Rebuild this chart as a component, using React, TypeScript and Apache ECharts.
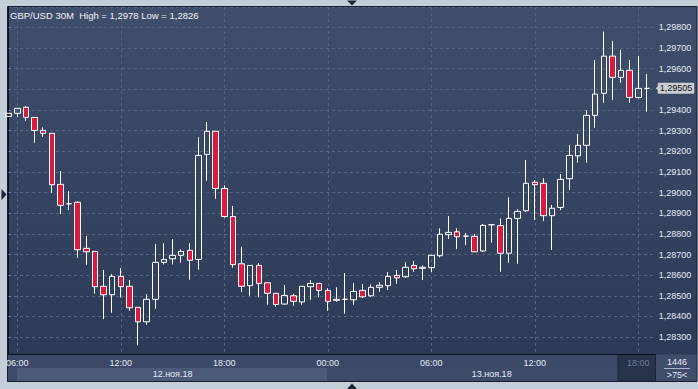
import React, { useEffect, useRef } from 'react';
import * as echarts from 'echarts';

// ---- data (30M candles, index 0 = 12 Nov 05:30) ----
const opens = [
  1.29369, 1.29384, 1.29413, 1.29364, 1.29301, 1.29287, 1.29040, 1.28946, 1.28953, 1.28730,
  1.28715, 1.28546, 1.28505, 1.28594, 1.28546, 1.28444, 1.28374, 1.28483, 1.28662, 1.28679,
  1.28696, 1.28720, 1.28676, 1.29185, 1.29297, 1.29020, 1.28884, 1.28655, 1.28549, 1.28647,
  1.28563, 1.28512, 1.28460, 1.28500, 1.28470, 1.28544, 1.28560, 1.28526, 1.28478, 1.28483,
  1.28481, 1.28526, 1.28500, 1.28541, 1.28549, 1.28599, 1.28592, 1.28647, 1.28633, 1.28636,
  1.28694, 1.28796, 1.28810, 1.28789, 1.28788, 1.28717, 1.28844, 1.28840, 1.28706, 1.28875,
  1.28912, 1.29050, 1.29045, 1.28888, 1.28928, 1.29067, 1.29178, 1.29229, 1.29374, 1.29481,
  1.29661, 1.29558, 1.29592, 1.29461, 1.29505,
];
const closes = [
  1.29384, 1.29408, 1.29364, 1.29301, 1.29287, 1.29038, 1.28938, 1.28946, 1.28723, 1.28713,
  1.28544, 1.28505, 1.28594, 1.28544, 1.28442, 1.28374, 1.28483, 1.28662, 1.28676, 1.28696,
  1.28715, 1.28672, 1.29180, 1.29297, 1.29020, 1.28884, 1.28651, 1.28546, 1.28647, 1.28560,
  1.28512, 1.28458, 1.28502, 1.28473, 1.28546, 1.28560, 1.28526, 1.28473, 1.28483, 1.28483,
  1.28521, 1.28495, 1.28541, 1.28551, 1.28594, 1.28587, 1.28638, 1.28631, 1.28638, 1.28696,
  1.28798, 1.28807, 1.28786, 1.28789, 1.28713, 1.28841, 1.28844, 1.28706, 1.28875, 1.28909,
  1.29045, 1.29038, 1.28888, 1.28924, 1.29064, 1.29180, 1.29229, 1.29374, 1.29477, 1.29661,
  1.29558, 1.29592, 1.29461, 1.29505, 1.29505,
];
const highs = [
  1.29385, 1.29410, 1.29419, 1.29364, 1.29316, 1.29287, 1.29104, 1.29007, 1.28957, 1.28789,
  1.28715, 1.28625, 1.28605, 1.28634, 1.28576, 1.28444, 1.28508, 1.28751, 1.28755, 1.28775,
  1.28725, 1.28755, 1.29268, 1.29342, 1.29297, 1.29035, 1.28935, 1.28738, 1.28647, 1.28659,
  1.28565, 1.28512, 1.28552, 1.28510, 1.28546, 1.28576, 1.28560, 1.28537, 1.28541, 1.28610,
  1.28562, 1.28557, 1.28555, 1.28566, 1.28615, 1.28625, 1.28663, 1.28668, 1.28647, 1.28696,
  1.28827, 1.28886, 1.28827, 1.28804, 1.28799, 1.28848, 1.28848, 1.28875, 1.28977, 1.28919,
  1.29158, 1.29061, 1.29070, 1.28940, 1.29090, 1.29230, 1.29284, 1.29400, 1.29642, 1.29780,
  1.29734, 1.29691, 1.29642, 1.29661, 1.29574,
];
const lows = [
  1.29366, 1.29367, 1.29348, 1.29241, 1.29270, 1.28999, 1.28896, 1.28915, 1.28684, 1.28650,
  1.28510, 1.28387, 1.28418, 1.28492, 1.28427, 1.28260, 1.28360, 1.28437, 1.28652, 1.28652,
  1.28660, 1.28578, 1.28626, 1.29057, 1.28970, 1.28879, 1.28636, 1.28518, 1.28500, 1.28492,
  1.28457, 1.28447, 1.28457, 1.28452, 1.28457, 1.28481, 1.28492, 1.28427, 1.28471, 1.28413,
  1.28457, 1.28490, 1.28495, 1.28519, 1.28528, 1.28558, 1.28587, 1.28616, 1.28576, 1.28615,
  1.28686, 1.28775, 1.28726, 1.28746, 1.28712, 1.28712, 1.28757, 1.28616, 1.28660, 1.28655,
  1.28906, 1.28867, 1.28862, 1.28722, 1.28915, 1.29012, 1.29145, 1.29145, 1.29314, 1.29435,
  1.29448, 1.29532, 1.29435, 1.29455, 1.29392,
];

const tickIndices = [1, 13, 25, 37, 49, 61, 73];
const timeLabels = ['06:00', '12:00', '18:00', '00:00', '06:00', '12:00', '18:00'];
const dateIndices = [19, 56];
const dateLabels = ['12.ноя.18', '13.ноя.18'];
const titleText = 'GBP/USD 30M  High = 1,2978 Low = 1,2826';
const barTotal = '1446';
const barVisible = '>75<';

const FONT = '"Liberation Sans", Arial, sans-serif';
const LABEL = '#e4ebf6';
const fmt = (v: number, d: number) => v.toFixed(d).replace('.', ',');

const candleData = opens.map((o, i) => [i, o, closes[i], lows[i], highs[i]]);
const lastClose = closes[closes.length - 1];
const xMin = -0.081;
const xMax = 75.015;
const yMin = 1.28218;
const yMax = 1.29899;

export default function App() {
  const ref = useRef<HTMLDivElement>(null);
  useEffect(() => {
    const chart = echarts.init(ref.current!, null, { renderer: 'svg' });
    const option: any = {
      animation: false,
      backgroundColor: '#c4ced9',
      textStyle: { fontFamily: FONT },
      grid: { left: 8, right: 42.3, top: 7, bottom: 35, containLabel: false, outerBoundsMode: 'none' },
      xAxis: [
        {
          type: 'value',
          min: xMin,
          max: xMax,
          axisLine: { show: true, onZero: false, lineStyle: { color: '#0b101c', width: 1 } },
          axisTick: { show: false, customValues: tickIndices },
          axisLabel: {
            customValues: tickIndices,
            color: LABEL,
            fontSize: 9,
            fontFamily: FONT,
            margin: 4,
            formatter: (v: number) => {
              const i = tickIndices.indexOf(Math.round(v));
              if (i < 0) return '';
              return i === tickIndices.length - 1 ? '{dim|' + timeLabels[i] + '}' : timeLabels[i];
            },
            rich: { dim: { color: '#6f7c95', fontSize: 9, fontFamily: FONT } },
          },
          splitLine: { show: true, lineStyle: { color: '#55637f', width: 1, type: [3, 3] } },
        },
        {
          type: 'value',
          min: xMin,
          max: xMax,
          position: 'bottom',
          offset: 11,
          axisLine: { show: false },
          axisTick: { show: false, customValues: dateIndices },
          axisLabel: {
            customValues: dateIndices,
            color: LABEL,
            fontSize: 9,
            fontFamily: FONT,
            margin: 4,
            formatter: (v: number) => {
              const i = dateIndices.indexOf(Math.round(v));
              return i < 0 ? '' : dateLabels[i];
            },
          },
          splitLine: { show: false },
        },
      ],
      yAxis: [
        {
          type: 'value',
          position: 'right',
          min: yMin,
          max: yMax,
          splitNumber: 17,
          minInterval: 0.001,
          maxInterval: 0.001,
          axisLine: { show: true, lineStyle: { color: '#0b101c', width: 1 } },
          axisTick: { show: true, length: 2, lineStyle: { color: '#5b8fd6' } },
          axisLabel: {
            color: LABEL,
            fontSize: 9,
            fontFamily: FONT,
            margin: 3,
            showMinLabel: false,
            showMaxLabel: false,
            formatter: (v: number) => fmt(v, 5),
          },
          splitLine: { show: true, lineStyle: { color: '#55637f', width: 1, type: [3, 3] } },
        },
        {
          type: 'value',
          position: 'right',
          min: yMin,
          max: yMax,
          axisLine: { show: false },
          axisTick: { show: false, customValues: [lastClose] },
          splitLine: { show: false },
          axisLabel: {
            customValues: [lastClose],
            showMinLabel: true,
            showMaxLabel: true,
            color: '#111111',
            fontSize: 9,
            fontFamily: FONT,
            margin: 2,
            backgroundColor: '#c9cdd3',
            padding: [1, 2, 1, 2],
            borderRadius: 1,
            formatter: (v: number) => fmt(v, 5),
          },
        },
      ],
      graphic: [
        { type: 'rect', z: -20, shape: { x: 7.5, y: 6.5, width: 689.5, height: 375 },
          style: { fill: { type: 'linear', x: 0, y: 0, x2: 0, y2: 1,
            colorStops: [{ offset: 0, color: '#3f4e6b' }, { offset: 1, color: '#2b3956' }] },
            stroke: '#161d2c', lineWidth: 1 } },
        { type: 'rect', z: -15, shape: { x: 8, y: 354.5, width: 648, height: 13.5 }, style: { fill: '#3b4966' } },
        { type: 'rect', z: -15, shape: { x: 8, y: 368, width: 648, height: 13 }, style: { fill: '#3d4b68' } },
        { type: 'rect', z: -14, shape: { x: 17, y: 368, width: 310, height: 13 }, style: { fill: '#4b5a78' } },
        { type: 'rect', z: -15, shape: { x: 656, y: 354.5, width: 40.5, height: 26.5 }, style: { fill: '#3f4d6b' } },
        { type: 'rect', z: -13, shape: { x: 618, y: 354.5, width: 37.5, height: 26.5 }, style: { fill: '#27324b', stroke: '#1d2639', lineWidth: 1 } },
        { type: 'line', z: 5, shape: { x1: 664, y1: 368.5, x2: 690, y2: 368.5 }, style: { stroke: '#aab6c8', lineWidth: 1 } },
        { type: 'text', z: 10, x: 677, y: 362, style: { text: barTotal, fill: LABEL, fontSize: 9, fontFamily: FONT, align: 'center', verticalAlign: 'middle' } },
        { type: 'text', z: 10, x: 677, y: 375, style: { text: barVisible, fill: LABEL, fontSize: 9, fontFamily: FONT, align: 'center', verticalAlign: 'middle' } },
        { type: 'text', z: 10, x: 10, y: 10, style: { text: titleText, fill: '#eef3fa', fontSize: 9.5, fontFamily: FONT, align: 'left', verticalAlign: 'top' } },
        { type: 'polygon', z: 10, shape: { points: [[347, 0.5], [357, 0.5], [352, 5.5]] }, style: { fill: '#1b2334' } },
        { type: 'polygon', z: 10, shape: { points: [[347, 389], [357, 389], [352, 383.5]] }, style: { fill: '#1b2334' } },
        { type: 'polygon', z: 10, shape: { points: [[1.5, 189], [1.5, 200], [6.5, 194.5]] }, style: { fill: '#1b2334' } },
      ],
      series: [
        {
          type: 'candlestick',
          xAxisIndex: 0,
          yAxisIndex: 0,
          data: candleData,
          barWidth: 6,
          itemStyle: {
            color: 'rgba(0,0,0,0)',
            color0: '#dc1a3d',
            borderColor: '#ffffff',
            borderColor0: '#ffffff',
            borderColorDoji: '#ffffff',
            borderWidth: 1,
          },
          markPoint: {
            silent: true,
            label: { show: false },
            data: [{ coord: [74.95, lastClose], symbol: 'triangle', symbolSize: [8, 5], symbolRotate: 90, symbolOffset: [3, 0], itemStyle: { color: '#c9cdd3' } }],
          },
        },
      ],
    };
    chart.setOption(option);
    return () => chart.dispose();
  }, []);
  return <div ref={ref} style={{ position: 'absolute', left: 0, top: 0, width: 698, height: 389 }} />;
}
